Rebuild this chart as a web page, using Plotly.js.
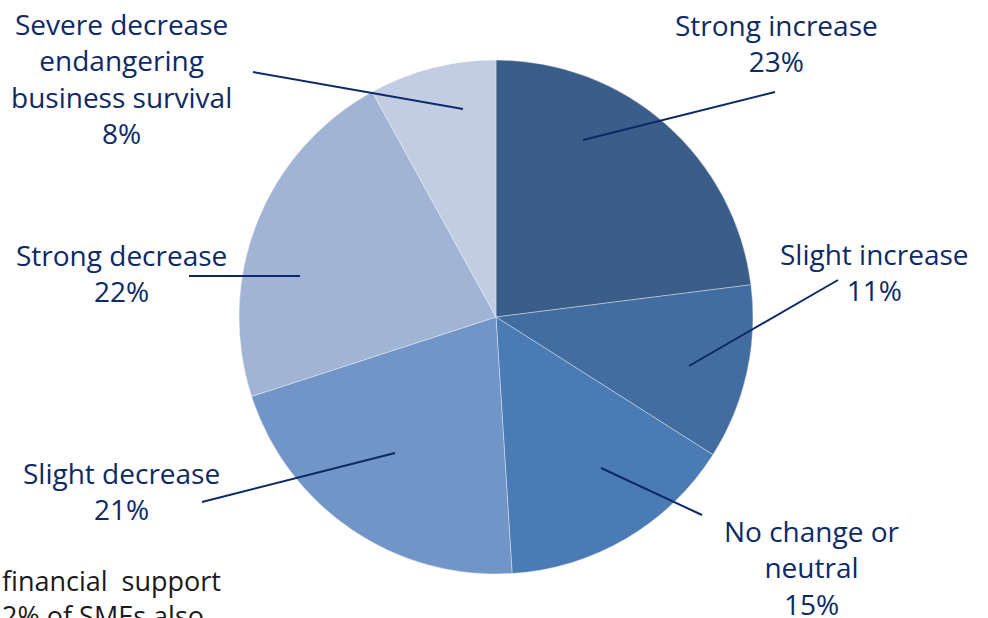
<!DOCTYPE html>
<html>
<head>
<meta charset="utf-8">
<script src="https://cdn.plot.ly/plotly-3.0.1.min.js"></script>
<style>html,body{margin:0;padding:0;background:#fff;overflow:hidden}#chart{width:988px;height:618px}</style>
</head>
<body>
<div id="chart"></div>
<script>
// ---- data ----
const categories = ["Strong increase", "Slight increase", "No change or neutral", "Slight decrease", "Strong decrease", "Severe decrease endangering business survival"];
const displayLabels = ["Strong increase", "Slight increase", "No change or<br>neutral", "Slight decrease", "Strong decrease", "Severe decrease<br>endangering<br>business survival"];
const values = [23, 11, 15, 21, 22, 8];
const sliceColors = ["#3a5d89", "#426da1", "#4a7bb5", "#7195c6", "#a1b4d5", "#c2cde3"];
const bodyText = ["financial&nbsp;&nbsp;support", "2% of SMEs also"];

// ---- layout helpers (pixel -> paper) ----
const W = 988, H = 618;
const px = x => x / W;
const py = y => 1 - y / H;

// label centre positions and leader lines (pixels)
const labelPos = [[776, 43.5], [874, 272], [812, 567], [121, 490.5], [121, 272.5], [121, 78.5]];
const leaderLines = [
  [[775, 92], [583, 140]],
  [[838, 280], [689, 366]],
  [[601, 468], [702, 515]],
  [[202, 502], [395, 453]],
  [[189, 276], [300, 276]],
  [[253, 72], [463, 109]]
];

const navy = "#0d2a66";
const fontFam = "'Open Sans', 'Noto Sans', sans-serif";

const annotations = displayLabels.map((lab, i) => ({
  text: lab + "<br>" + values[i] + "%",
  xref: "paper", yref: "paper",
  x: px(labelPos[i][0]), y: py(labelPos[i][1]),
  xanchor: "center", yanchor: "middle",
  showarrow: false,
  font: {family: fontFam, size: 28, color: navy}
}));
annotations.push({
  text: bodyText[0], xref: "paper", yref: "paper",
  x: 0, y: py(580), xanchor: "left", yanchor: "middle", showarrow: false,
  font: {family: fontFam, size: 27, color: "#1a1a1a"}
});
annotations.push({
  text: bodyText[1], xref: "paper", yref: "paper",
  x: 0, y: py(615), xanchor: "left", yanchor: "middle", showarrow: false,
  font: {family: fontFam, size: 27, color: "#1a1a1a"}
});

const shapes = leaderLines.map(l => ({
  type: "line", xref: "paper", yref: "paper",
  x0: px(l[0][0]), y0: py(l[0][1]), x1: px(l[1][0]), y1: py(l[1][1]),
  line: {color: navy, width: 2}
}));

const cx = 496, cy = 317, r = 257;
const trace = {
  type: "pie",
  labels: categories,
  values: values,
  sort: false,
  direction: "clockwise",
  rotation: 0,
  textinfo: "none",
  hoverinfo: "label+percent",
  marker: {colors: sliceColors, line: {color: "rgba(255,255,255,0.45)", width: 0.8}},
  domain: {x: [px(cx - r), px(cx + r)], y: [py(cy + r), py(cy - r)]},
  showlegend: false
};

const layout = {
  width: W, height: H,
  margin: {l: 0, r: 0, t: 0, b: 0},
  paper_bgcolor: "#ffffff",
  plot_bgcolor: "#ffffff",
  showlegend: false,
  annotations: annotations,
  shapes: shapes
};

Plotly.newPlot("chart", [trace], layout, {displayModeBar: false, staticPlot: true});
</script>
</body>
</html>
